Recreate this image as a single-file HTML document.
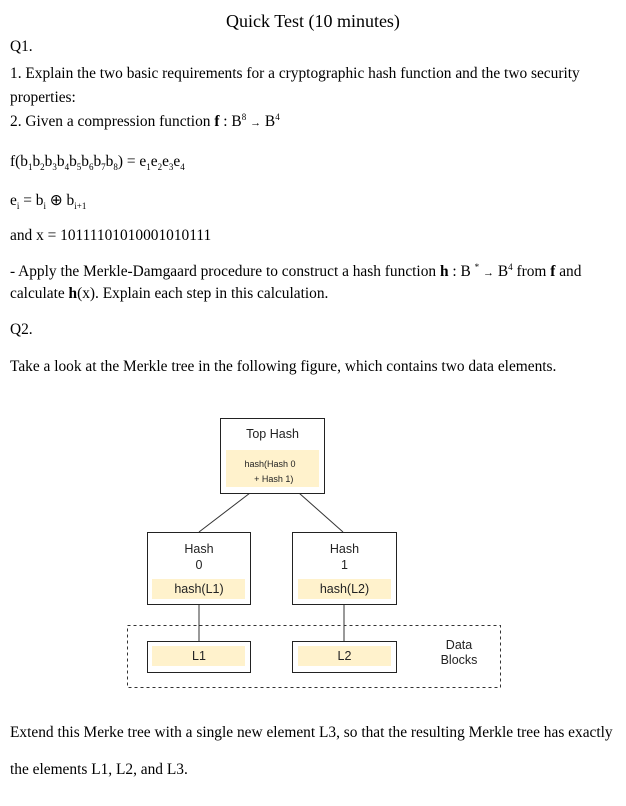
<!DOCTYPE html>
<html><head><style>
body{margin:0;width:626px;height:806px;background:#fff;position:relative;font-family:"Liberation Serif",serif;font-size:15.4px;color:#000;overflow:hidden}
.t{position:absolute;left:10px;white-space:nowrap;line-height:18px}
sub,sup{font-size:9px;line-height:0}
.ar{font-size:11px}
.d{font-family:"Liberation Sans",sans-serif;color:#222;position:absolute;text-align:center}
.box{position:absolute;border:1px solid #222;background:#fff;box-sizing:border-box}
.fill{position:absolute;background:#fff2cc}
</style></head><body>
<div class="t" style="left:0;width:626px;text-align:center;top:12px;font-size:18px">Quick Test (10 minutes)</div>
<div class="t" style="top:38px">Q1.</div>
<div class="t" style="top:65px">1. Explain the two basic requirements for a cryptographic hash function and the two security</div>
<div class="t" style="top:89px">properties:</div>
<div class="t" style="top:113px">2. Given a compression function <b>f</b> : B<sup>8</sup> <span class="ar">→</span> B<sup>4</sup></div>
<div class="t" style="top:153px">f(b<sub>1</sub>b<sub>2</sub>b<sub>3</sub>b<sub>4</sub>b<sub>5</sub>b<sub>6</sub>b<sub>7</sub>b<sub>8</sub>) = e<sub>1</sub>e<sub>2</sub>e<sub>3</sub>e<sub>4</sub></div>
<div class="t" style="top:192px">e<sub>i</sub> = b<sub>i</sub> ⊕ b<sub>i+1</sub></div>
<div class="t" style="top:227px">and x = 10111101010001010111</div>
<div class="t" style="top:263px">- Apply the Merkle-Damgaard procedure to construct a hash function <b>h</b> : B <sup>*</sup> <span class="ar">→</span> B<sup>4</sup> from <b>f</b> and</div>
<div class="t" style="top:285px">calculate <b>h</b>(x). Explain each step in this calculation.</div>
<div class="t" style="top:321px">Q2.</div>
<div class="t" style="top:358px">Take a look at the Merkle tree in the following figure, which contains two data elements.</div>

<svg style="position:absolute;left:0;top:0" width="626" height="806">
<rect x="127.5" y="625.5" width="373" height="62" fill="none" stroke="#333" stroke-dasharray="3,3"/>
<line x1="250" y1="493" x2="199" y2="532" stroke="#333"/>
<line x1="299" y1="493" x2="343" y2="532" stroke="#333"/>
<line x1="199" y1="604" x2="199" y2="641" stroke="#333"/>
<line x1="344" y1="604" x2="344" y2="641" stroke="#333"/>
</svg>

<div class="box" style="left:220px;top:418px;width:105px;height:76px"></div>
<div class="fill" style="left:226px;top:450px;width:93px;height:37px"></div>
<div class="d" style="left:220px;top:427px;width:105px;font-size:12.5px">Top Hash</div>
<div class="d" style="left:226px;top:457px;width:88px;font-size:9px;line-height:15px">hash(Hash 0<br>&nbsp;&nbsp;&nbsp;+ Hash 1)</div>

<div class="box" style="left:147px;top:532px;width:104px;height:73px"></div>
<div class="fill" style="left:152px;top:579px;width:93px;height:20px"></div>
<div class="d" style="left:147px;top:541px;width:104px;font-size:12.5px;line-height:16px">Hash<br>0</div>
<div class="d" style="left:147px;top:582px;width:104px;font-size:12.5px">hash(L1)</div>

<div class="box" style="left:292px;top:532px;width:105px;height:73px"></div>
<div class="fill" style="left:298px;top:579px;width:93px;height:20px"></div>
<div class="d" style="left:292px;top:541px;width:105px;font-size:12.5px;line-height:16px">Hash<br>1</div>
<div class="d" style="left:292px;top:582px;width:105px;font-size:12.5px">hash(L2)</div>

<div class="box" style="left:147px;top:641px;width:104px;height:32px"></div>
<div class="fill" style="left:152px;top:646px;width:93px;height:20px"></div>
<div class="d" style="left:147px;top:649px;width:104px;font-size:12.5px">L1</div>

<div class="box" style="left:292px;top:641px;width:105px;height:32px"></div>
<div class="fill" style="left:298px;top:646px;width:93px;height:20px"></div>
<div class="d" style="left:292px;top:649px;width:105px;font-size:12.5px">L2</div>

<div class="d" style="left:420px;top:638px;width:78px;font-size:12.5px;line-height:15px">Data<br>Blocks</div>

<div class="t" style="top:724px">Extend this Merke tree with a single new element L3, so that the resulting Merkle tree has exactly</div>
<div class="t" style="top:761px">the elements L1, L2, and L3.</div>
</body></html>
